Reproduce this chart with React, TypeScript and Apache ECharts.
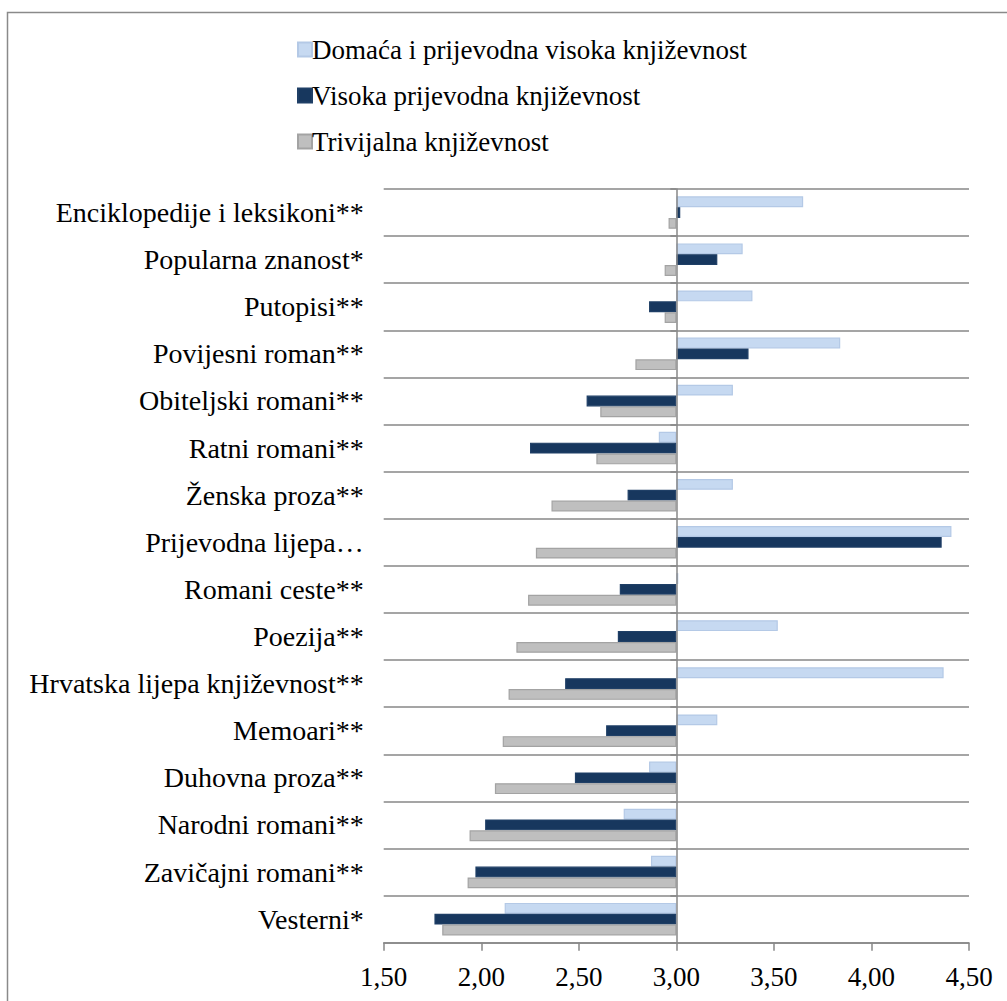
import React, { useEffect, useRef } from "react";
import * as echarts from "echarts";

const categories = [
  "Enciklopedije i leksikoni**",
  "Popularna znanost*",
  "Putopisi**",
  "Povijesni roman**",
  "Obiteljski romani**",
  "Ratni romani**",
  "Ženska proza**",
  "Prijevodna lijepa…",
  "Romani ceste**",
  "Poezija**",
  "Hrvatska lijepa književnost**",
  "Memoari**",
  "Duhovna proza**",
  "Narodni romani**",
  "Zavičajni romani**",
  "Vesterni*",
];

const seriesNames = [
  "Domaća i prijevodna visoka književnost",
  "Visoka prijevodna književnost",
  "Trivijalna književnost",
];

const domacaVisoka = [3.65, 3.34, 3.39, 3.84, 3.29, 2.91, 3.29, 4.41, 3.01, 3.52, 4.37, 3.21, 2.86, 2.73, 2.87, 2.12];
const visokaPrijevodna = [3.02, 3.21, 2.86, 3.37, 2.54, 2.25, 2.75, 4.36, 2.71, 2.7, 2.43, 2.64, 2.48, 2.02, 1.97, 1.76];
const trivijalna = [2.96, 2.94, 2.94, 2.79, 2.61, 2.59, 2.36, 2.28, 2.24, 2.18, 2.14, 2.11, 2.07, 1.94, 1.93, 1.8];

const baseline = 3.0;
const axisMin = 1.5;
const axisMax = 4.5;
const axisStep = 0.5;

const FONT = "'Liberation Serif', 'Times New Roman', serif";
const GRIDC = "#878787";

export default function App() {
  const ref = useRef<HTMLDivElement>(null);
  useEffect(() => {
    if (!ref.current) return;
    const chart = echarts.init(ref.current, undefined, { renderer: "svg" });
    const styles = [
      { color: "#C6D9F1", borderColor: "#B4C9E6" },
      { color: "#17375E", borderColor: "#1F3F66" },
      { color: "#BFBFBF", borderColor: "#A3A3A3" },
    ];
    const all = [domacaVisoka, visokaPrijevodna, trivijalna];
    chart.setOption({
      animation: false,
      backgroundColor: "#ffffff",
      graphic: [
        {
          type: "rect",
          shape: { x: 7.5, y: 12.5, width: 1020, height: 1020 },
          style: { fill: "none", stroke: "#8a8a8a", lineWidth: 1.5 },
          silent: true,
          z: -1,
        },
      ],
      legend: {
        orient: "vertical",
        left: 297,
        top: 36,
        padding: 0,
        itemWidth: 14,
        itemHeight: 14,
        itemGap: 19,
        icon: "rect",
        textStyle: { fontFamily: FONT, fontSize: 27, color: "#000", lineHeight: 27, padding: [0, 0, 0, -5] },
        data: seriesNames,
      },
      grid: { left: 383.7, right: 38, top: 189, bottom: 58.3, containLabel: false },
      xAxis: {
        type: "value",
        min: axisMin - baseline,
        max: axisMax - baseline,
        interval: axisStep,
        axisLine: { show: true, onZero: false, lineStyle: { color: GRIDC, width: 1.5 } },
        axisTick: { show: true, length: 8, lineStyle: { color: GRIDC, width: 1.5 } },
        splitLine: { show: false },
        axisLabel: {
          fontFamily: FONT,
          fontSize: 27,
          color: "#000",
          margin: 21,
          formatter: (v: number) => (v + baseline).toFixed(2).replace(".", ","),
        },
      },
      yAxis: [
        {
          type: "category",
          inverse: true,
          data: categories,
          axisLine: { show: false, onZero: false },
          axisTick: { show: false },
          splitLine: { show: true, lineStyle: { color: GRIDC, width: 1.5 } },
          axisLabel: { fontFamily: FONT, fontSize: 28, color: "#000", margin: 20 },
        },
        {
          type: "category",
          inverse: true,
          position: "left",
          data: categories,
          z: 10,
          axisLine: { show: true, onZero: true, lineStyle: { color: GRIDC, width: 1.5 } },
          axisTick: { show: true, length: 6, lineStyle: { color: GRIDC, width: 1.5 } },
          axisLabel: { show: false },
          splitLine: { show: false },
        },
      ],
      series: all.map((arr, i) => ({
        name: seriesNames[i],
        type: "bar",
        yAxisIndex: 0,
        barGap: "0%",
        barCategoryGap: "31%",
        data: arr.map((v) => +(v - baseline).toFixed(4)),
        itemStyle: { color: styles[i].color, borderColor: styles[i].borderColor, borderWidth: 1.2 },
      })),
    });
    return () => chart.dispose();
  }, []);
  return (
    <div
      ref={ref}
      style={{ position: "fixed", left: 0, top: 0, width: 1007, height: 1001, background: "#fff" }}
    />
  );
}
